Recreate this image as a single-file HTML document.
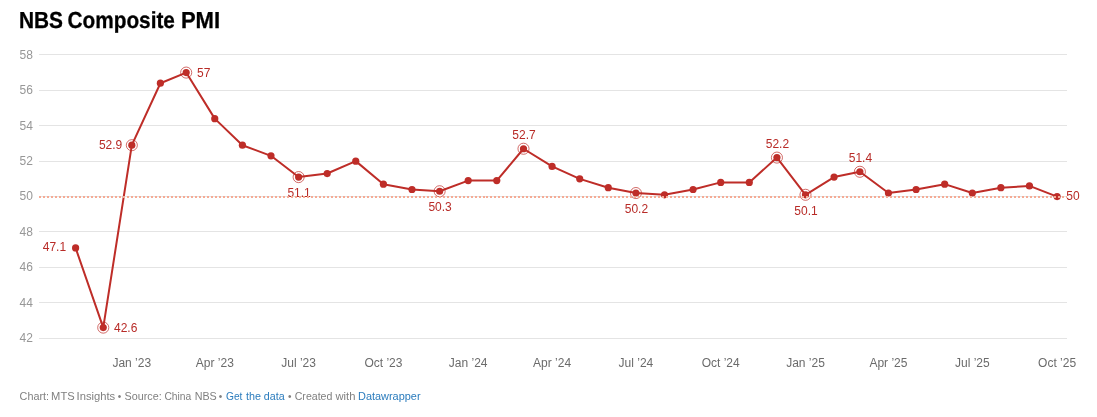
<!DOCTYPE html>
<html lang="en"><head><meta charset="utf-8"><title>NBS Composite PMI</title>
<style>
html,body{margin:0;padding:0;background:#fff;}
body{width:1097px;height:417px;overflow:hidden;font-family:"Liberation Sans", Arial, sans-serif;}
svg{display:block;position:absolute;left:0;top:0;}
text{font-family:"Liberation Sans", Arial, sans-serif;}
.t{font-size:23.2px;font-weight:700;fill:#000;stroke:#000;stroke-width:0.3px;}
.yl{font-size:12px;fill:#979797;}
.xl{font-size:12px;fill:#6b6b6b;text-anchor:middle;}
.dl{font-size:12px;fill:#b82b27;}
.ft{font-size:11px;fill:#808080;}
.lk{fill:#2b7cbd;}
.bl{font-size:10px;}
</style></head><body>
<svg width="1097" height="417" viewBox="0 0 1097 417">

<text class="t" transform="translate(0,28) rotate(0.03)" y="0"><tspan x="19.0" textLength="44.0" lengthAdjust="spacingAndGlyphs">NBS</tspan> <tspan x="67.5" textLength="107.4" lengthAdjust="spacingAndGlyphs">Composite</tspan> <tspan x="180.9" textLength="39.2" lengthAdjust="spacingAndGlyphs">PMI</tspan></text>
<g shape-rendering="crispEdges">
<rect x="39" y="54" width="1028" height="1" fill="#e4e4e4"/>
<rect x="39" y="90" width="1028" height="1" fill="#e4e4e4"/>
<rect x="39" y="125" width="1028" height="1" fill="#e4e4e4"/>
<rect x="39" y="161" width="1028" height="1" fill="#e4e4e4"/>
<rect x="39" y="196" width="1028" height="1" fill="#e4e4e4"/>
<rect x="39" y="231" width="1028" height="1" fill="#e4e4e4"/>
<rect x="39" y="267" width="1028" height="1" fill="#e4e4e4"/>
<rect x="39" y="302" width="1028" height="1" fill="#e4e4e4"/>
<rect x="39" y="338" width="1028" height="1" fill="#e4e4e4"/>
</g>
<text class="yl" x="19.6" y="59">58</text>
<text class="yl" x="19.6" y="94">56</text>
<text class="yl" x="19.6" y="130">54</text>
<text class="yl" x="19.6" y="165">52</text>
<text class="yl" x="19.6" y="200">50</text>
<text class="yl" x="19.6" y="236">48</text>
<text class="yl" x="19.6" y="271">46</text>
<text class="yl" x="19.6" y="307">44</text>
<text class="yl" x="19.6" y="342">42</text>
<text class="xl" x="131.8" y="367">Jan ’23</text>
<text class="xl" x="214.8" y="367">Apr ’23</text>
<text class="xl" x="298.6" y="367">Jul ’23</text>
<text class="xl" x="383.4" y="367">Oct ’23</text>
<text class="xl" x="468.2" y="367">Jan ’24</text>
<text class="xl" x="552.1" y="367">Apr ’24</text>
<text class="xl" x="635.9" y="367">Jul ’24</text>
<text class="xl" x="720.7" y="367">Oct ’24</text>
<text class="xl" x="805.5" y="367">Jan ’25</text>
<text class="xl" x="888.4" y="367">Apr ’25</text>
<text class="xl" x="972.3" y="367">Jul ’25</text>
<text class="xl" x="1057.1" y="367">Oct ’25</text>
<polyline points="75.60,247.92 103.25,327.61 131.82,145.20 160.39,83.22 186.19,72.59 214.76,118.64 242.41,145.20 270.98,155.83 298.63,177.08 327.20,173.54 355.77,161.14 383.41,184.16 411.98,189.48 439.63,191.25 468.20,180.62 496.77,180.62 523.50,148.74 552.07,166.45 579.71,178.85 608.28,187.71 635.93,193.02 664.50,194.79 693.07,189.48 720.72,182.39 749.29,182.39 776.93,157.60 805.50,194.79 834.07,177.08 859.88,171.77 888.45,193.02 916.10,189.48 944.67,184.16 972.31,193.02 1000.88,187.71 1029.45,185.93 1057.10,196.56" fill="none" stroke="#be2d28" stroke-width="2" stroke-linejoin="round" stroke-linecap="round"/>
<circle cx="75.60" cy="247.92" r="3.6" fill="#be2d28"/>
<circle cx="103.25" cy="327.61" r="3.6" fill="#be2d28"/>
<circle cx="131.82" cy="145.20" r="3.6" fill="#be2d28"/>
<circle cx="160.39" cy="83.22" r="3.6" fill="#be2d28"/>
<circle cx="186.19" cy="72.59" r="3.6" fill="#be2d28"/>
<circle cx="214.76" cy="118.64" r="3.6" fill="#be2d28"/>
<circle cx="242.41" cy="145.20" r="3.6" fill="#be2d28"/>
<circle cx="270.98" cy="155.83" r="3.6" fill="#be2d28"/>
<circle cx="298.63" cy="177.08" r="3.6" fill="#be2d28"/>
<circle cx="327.20" cy="173.54" r="3.6" fill="#be2d28"/>
<circle cx="355.77" cy="161.14" r="3.6" fill="#be2d28"/>
<circle cx="383.41" cy="184.16" r="3.6" fill="#be2d28"/>
<circle cx="411.98" cy="189.48" r="3.6" fill="#be2d28"/>
<circle cx="439.63" cy="191.25" r="3.6" fill="#be2d28"/>
<circle cx="468.20" cy="180.62" r="3.6" fill="#be2d28"/>
<circle cx="496.77" cy="180.62" r="3.6" fill="#be2d28"/>
<circle cx="523.50" cy="148.74" r="3.6" fill="#be2d28"/>
<circle cx="552.07" cy="166.45" r="3.6" fill="#be2d28"/>
<circle cx="579.71" cy="178.85" r="3.6" fill="#be2d28"/>
<circle cx="608.28" cy="187.71" r="3.6" fill="#be2d28"/>
<circle cx="635.93" cy="193.02" r="3.6" fill="#be2d28"/>
<circle cx="664.50" cy="194.79" r="3.6" fill="#be2d28"/>
<circle cx="693.07" cy="189.48" r="3.6" fill="#be2d28"/>
<circle cx="720.72" cy="182.39" r="3.6" fill="#be2d28"/>
<circle cx="749.29" cy="182.39" r="3.6" fill="#be2d28"/>
<circle cx="776.93" cy="157.60" r="3.6" fill="#be2d28"/>
<circle cx="805.50" cy="194.79" r="3.6" fill="#be2d28"/>
<circle cx="834.07" cy="177.08" r="3.6" fill="#be2d28"/>
<circle cx="859.88" cy="171.77" r="3.6" fill="#be2d28"/>
<circle cx="888.45" cy="193.02" r="3.6" fill="#be2d28"/>
<circle cx="916.10" cy="189.48" r="3.6" fill="#be2d28"/>
<circle cx="944.67" cy="184.16" r="3.6" fill="#be2d28"/>
<circle cx="972.31" cy="193.02" r="3.6" fill="#be2d28"/>
<circle cx="1000.88" cy="187.71" r="3.6" fill="#be2d28"/>
<circle cx="1029.45" cy="185.93" r="3.6" fill="#be2d28"/>
<circle cx="1057.10" cy="196.56" r="3.6" fill="#be2d28"/>
<circle cx="103.25" cy="327.61" r="5.55" fill="none" stroke="#be2d28" stroke-width="0.7"/>
<text class="dl" x="114.0" y="332">42.6</text>
<circle cx="131.82" cy="145.20" r="5.55" fill="none" stroke="#be2d28" stroke-width="0.7"/>
<text class="dl" text-anchor="end" x="122.3" y="149">52.9</text>
<circle cx="186.19" cy="72.59" r="5.55" fill="none" stroke="#be2d28" stroke-width="0.7"/>
<text class="dl" x="197.0" y="77">57</text>
<circle cx="298.63" cy="177.08" r="5.55" fill="none" stroke="#be2d28" stroke-width="0.7"/>
<text class="dl" text-anchor="middle" x="299.1" y="197">51.1</text>
<circle cx="439.63" cy="191.25" r="5.55" fill="none" stroke="#be2d28" stroke-width="0.7"/>
<text class="dl" text-anchor="middle" x="440.1" y="211">50.3</text>
<circle cx="523.50" cy="148.74" r="5.55" fill="none" stroke="#be2d28" stroke-width="0.7"/>
<text class="dl" text-anchor="middle" x="524.0" y="139">52.7</text>
<circle cx="635.93" cy="193.02" r="5.55" fill="none" stroke="#be2d28" stroke-width="0.7"/>
<text class="dl" text-anchor="middle" x="636.4" y="213">50.2</text>
<circle cx="776.93" cy="157.60" r="5.55" fill="none" stroke="#be2d28" stroke-width="0.7"/>
<text class="dl" text-anchor="middle" x="777.4" y="148">52.2</text>
<circle cx="805.50" cy="194.79" r="5.55" fill="none" stroke="#be2d28" stroke-width="0.7"/>
<text class="dl" text-anchor="middle" x="806.0" y="215">50.1</text>
<circle cx="859.88" cy="171.77" r="5.55" fill="none" stroke="#be2d28" stroke-width="0.7"/>
<text class="dl" text-anchor="middle" x="860.4" y="162">51.4</text>
<text class="dl" text-anchor="end" x="66.1" y="251">47.1</text>
<text class="dl" x="1066.3" y="200">50</text>
<line x1="39" x2="1067" y1="197" y2="197" stroke="#f5ab95" stroke-width="2" stroke-dasharray="2,1.9955" shape-rendering="crispEdges"/>
<text class="ft" y="400"><tspan x="19.60" textLength="29.45" lengthAdjust="spacingAndGlyphs">Chart:</tspan> <tspan x="51.10" textLength="23.55" lengthAdjust="spacingAndGlyphs">MTS</tspan> <tspan x="76.60" textLength="38.64" lengthAdjust="spacingAndGlyphs">Insights</tspan> <tspan class="bl" x="117.8" dy="0">•</tspan> <tspan x="124.50" dy="0" textLength="37.20" lengthAdjust="spacingAndGlyphs">Source:</tspan> <tspan x="164.40" textLength="26.87" lengthAdjust="spacingAndGlyphs">China</tspan> <tspan x="194.70" textLength="22.09" lengthAdjust="spacingAndGlyphs">NBS</tspan> <tspan class="bl" x="218.8" dy="0">•</tspan> <tspan class="lk" x="226.00" dy="0" textLength="16.45" lengthAdjust="spacingAndGlyphs">Get</tspan> <tspan class="lk" x="245.90" textLength="14.99" lengthAdjust="spacingAndGlyphs">the</tspan> <tspan class="lk" x="263.80" textLength="20.81" lengthAdjust="spacingAndGlyphs">data</tspan> <tspan class="bl" x="287.9" dy="0">•</tspan> <tspan x="294.70" dy="0" textLength="37.74" lengthAdjust="spacingAndGlyphs">Created</tspan> <tspan x="335.50" textLength="19.97" lengthAdjust="spacingAndGlyphs">with</tspan> <tspan class="lk" x="358.01" textLength="62.58" lengthAdjust="spacingAndGlyphs">Datawrapper</tspan></text>
</svg></body></html>
